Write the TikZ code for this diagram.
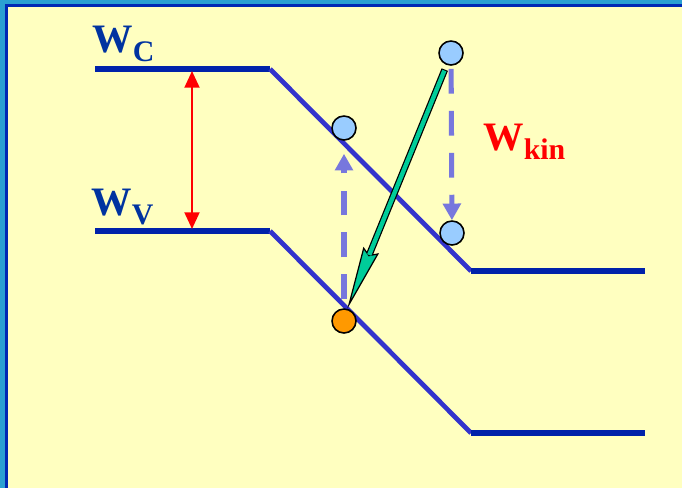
\documentclass[tikz,border=0pt]{standalone}
\usepackage{fontspec}
\setmainfont{Liberation Serif}
\usetikzlibrary{arrows.meta}
\definecolor{levelblue}{RGB}{0,34,170}
\definecolor{slopeblue}{RGB}{51,51,204}
\definecolor{dashblue}{RGB}{119,119,221}
\definecolor{paleyellow}{RGB}{255,255,192}
\definecolor{frameblue}{RGB}{42,160,210}
\definecolor{framedark}{RGB}{0,40,180}
\definecolor{holeorange}{RGB}{255,153,0}
\definecolor{electronblue}{RGB}{153,204,255}
\definecolor{jumpgreen}{RGB}{0,204,153}
\definecolor{labelblue}{RGB}{0,51,160}
\begin{document}
\begin{tikzpicture}[x=0.02cm,y=-0.02cm,
    level/.style={levelblue,line width=3.1pt},
    slope/.style={slopeblue,line width=2.7pt},
    carrier/.style={circle,draw=black,line width=0.9pt,minimum size=0.48cm,inner sep=0pt},
    hop/.style={dashblue,line width=2.9pt,dash pattern=on 14.2pt off 9.7pt,-{Triangle[length=9.5pt,width=10pt]}},
    wlabel/.style={inner sep=0pt,anchor=base west,font=\fontsize{23}{23}\selectfont\bfseries}]
    % frame
    \fill[frameblue] (0,0) rectangle (682,488);
    \fill[framedark] (5,4) rectangle (682,488);
    \fill[paleyellow] (8,7) rectangle (682,488);
    % define points
    \coordinate (C1) at (95,69);
    \coordinate (C2) at (270,69);
    \coordinate (C3) at (471,271);
    \coordinate (C4) at (645,271);
    \coordinate (V1) at (95,231);
    \coordinate (V2) at (270,231);
    \coordinate (V3) at (471,433);
    \coordinate (V4) at (645,433);
    % bands
    \draw[level] (C1) -- (C2);
    \draw[slope] (C2) -- (C3);
    \draw[level] (C3) -- (C4);
    \draw[level] (V1) -- (V2);
    \draw[slope] (V2) -- (V3);
    \draw[level] (V3) -- (V4);
    % gap
    \coordinate (gc) at (192,71);
    \coordinate (gv) at (192,229);
    \draw[red,line width=1.2pt,{Triangle[length=9.5pt,width=8.5pt]}-{Triangle[length=9.5pt,width=8.5pt]}] (gc) -- (gv);
    % labels
    \node[wlabel,labelblue] (wc) at (92,52) {W\raisebox{-5.5pt}{\fontsize{17}{17}\selectfont C}};
    \node[wlabel,labelblue] (wv) at (91,215) {W\raisebox{-5.5pt}{\fontsize{17}{17}\selectfont V}};
    \node[wlabel,red] (wkin) at (483,150) {W\raisebox{-5.5pt}{\fontsize{17}{17}\selectfont kin}};
    % carriers
    \node[carrier,fill=electronblue] (top) at (451,53) {};
    \node[carrier,fill=electronblue] (up) at (344,128) {};
    \node[carrier,fill=electronblue] (down) at (452,233) {};
    \node[carrier,fill=holeorange] (hole) at (344,321) {};
    % transitions
    \draw[hop,shorten <=5pt,shorten >=7.4pt] (hole) -- (up);
    \draw[hop,shorten <=1.7pt] (top) -- (down);
    \draw[black,line width=3.9pt,shorten <=2.8pt,-{Stealth[length=36pt,width=9.5pt,inset=3pt,fill=jumpgreen,line width=0.7pt]}] (top.-110) -- (hole.75);
    \draw[jumpgreen,line width=2.5pt,shorten <=3.4pt,shorten >=33pt] (top.-110) -- (hole.75);
\end{tikzpicture}
\end{document}
